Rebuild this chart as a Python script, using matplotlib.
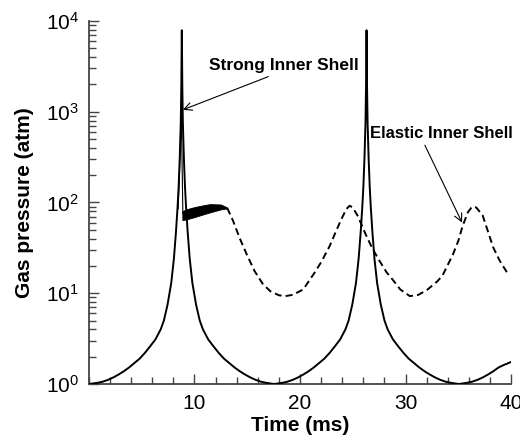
import numpy as np
import matplotlib
matplotlib.use("Agg")
import matplotlib.pyplot as plt
from matplotlib.ticker import FixedLocator, MultipleLocator, LogLocator, NullFormatter

plt.rcParams['font.family'] = ['Liberation Sans', 'DejaVu Sans']
plt.rcParams['mathtext.fontset'] = 'custom'
plt.rcParams['mathtext.rm'] = 'Liberation Sans'
plt.rcParams['mathtext.it'] = 'Liberation Sans:italic'
plt.rcParams['mathtext.bf'] = 'Liberation Sans:bold'

# strong inner shell: gas pressure (atm) vs time (ms)
strong_t = [0.0, 0.8, 1.3, 1.8, 2.3, 2.8, 3.3, 3.8, 4.3, 4.8, 5.3, 5.8, 6.3, 6.8,
            7.1, 7.45, 7.8, 8.05, 8.25, 8.4, 8.5, 8.6, 8.7, 8.75, 8.8,
            8.85, 8.9, 9.0, 9.1, 9.2, 9.35, 9.55, 9.8, 10.15, 10.5, 10.8, 11.3,
            11.8, 12.3, 12.8, 13.3, 13.8, 14.3, 14.8, 15.3, 15.8, 16.3, 16.8,
            17.55, 18.3, 18.8, 19.3, 19.8, 20.3, 20.8, 21.3, 21.8, 22.3, 22.8,
            23.3, 23.8, 24.3, 24.6, 24.95, 25.3, 25.55, 25.75, 25.9, 26.0, 26.1,
            26.2, 26.25, 26.3, 26.35, 26.4, 26.5, 26.6, 26.7, 26.85, 27.05,
            27.3, 27.65, 28.0, 28.3, 28.8, 29.3, 29.8, 30.3, 30.8, 31.3, 31.8,
            32.3, 32.8, 33.3, 33.8, 34.3, 35.05, 35.8, 36.3, 36.8, 37.3, 37.8,
            38.3, 38.8, 39.3, 40.0]
strong_p = [1.0, 1.03, 1.06, 1.11, 1.18, 1.27, 1.38, 1.52, 1.7, 1.9, 2.2, 2.6, 3.1, 4.0,
            5.0, 7.5, 13, 24, 48, 90, 150, 300, 750, 1800, 7900,
            1800, 750, 300, 150, 90, 48, 24, 13, 7.5, 5.0, 4.0, 3.1,
            2.6, 2.2, 1.9, 1.7, 1.52, 1.38, 1.27, 1.18, 1.11, 1.06, 1.03,
            1.0, 1.03, 1.06, 1.11, 1.18, 1.27, 1.38, 1.52, 1.7, 1.9, 2.2,
            2.6, 3.1, 4.0, 5.0, 7.5, 13, 24, 48, 90, 150, 300,
            750, 1800, 7900, 1800, 750, 300, 150, 90, 48, 24,
            13, 7.5, 5.0, 4.0, 3.1, 2.6, 2.2, 1.9, 1.7, 1.52, 1.38,
            1.27, 1.18, 1.11, 1.06, 1.03, 1.0, 1.03, 1.06, 1.11, 1.18, 1.27,
            1.38, 1.52, 1.62, 1.75]

# elastic inner shell: short spike, then a band of fast oscillation
spike_t = [8.45, 8.6, 8.75, 8.82, 8.9]
spike_p = [85, 250, 1000, 300, 75]
band_t = [8.85, 9.2, 10.0, 11.0, 11.5, 12.5, 13.1]
band_lo = [64, 65, 69, 75, 78, 84, 86]
band_hi = [80, 84, 89, 94, 96, 95, 88]

# elastic inner shell after the oscillating band
elastic_t = [13.1, 13.65, 14.3, 15.0, 15.7, 16.5, 17.2, 18.0, 18.6, 19.3, 20.3,
             21.4, 22.0, 22.8, 23.4, 23.9, 24.4, 24.7, 25.0, 25.5, 26.2, 26.8,
             27.5, 28.2, 28.8, 29.5, 30.4, 31.2, 32.0, 33.0, 33.5, 34.5, 35.0,
             35.4, 35.9, 36.3, 36.7, 37.3, 37.8, 38.3, 38.9, 39.6]
elastic_p = [87, 63, 40, 26, 17.5, 12.5, 10.5, 9.5, 9.3, 9.6, 11,
             17, 22, 33, 48, 65, 85, 92, 88, 70, 45, 32,
             23, 17, 14, 11, 9.3, 9.6, 10.8, 13.5, 15.7, 27, 38,
             55, 78, 90, 88, 72, 48, 32, 23, 17]

fig = plt.figure(figsize=(5.2, 4.46), dpi=100)
ax = fig.add_axes([0.171, 0.139, 0.812, 0.814])

ax.plot(strong_t, strong_p, color='k', linewidth=1.4, zorder=3)
ax.plot(spike_t, spike_p, color='k', linewidth=0.8, zorder=3)
ax.fill_between(band_t, band_lo, band_hi, color='k', linewidth=0.6, edgecolor='k')
ax.plot(elastic_t, elastic_p, color='k', linewidth=1.4, dashes=(3.6, 2.1))

ax.set_yscale('log')
ax.set_xlim(0, 40)
ax.set_ylim(1, 1e4)

ax.xaxis.set_major_locator(FixedLocator([10, 20, 30, 40]))
ax.xaxis.set_minor_locator(MultipleLocator(2))
ax.yaxis.set_major_locator(LogLocator(base=10, numticks=10))
ax.yaxis.set_minor_locator(LogLocator(base=10, subs=np.arange(2, 10), numticks=10))
ax.yaxis.set_minor_formatter(NullFormatter())

spine_col = '#444444'
for s in ['top', 'right']:
    ax.spines[s].set_visible(False)
for s in ['left', 'bottom']:
    ax.spines[s].set_color(spine_col)
    ax.spines[s].set_linewidth(1.3)
ax.tick_params(which='both', direction='in', color=spine_col, width=1.0,
               labelsize=15, top=False, right=False)
ax.tick_params(which='major', length=7, pad=7)
ax.tick_params(which='minor', length=5)

ax.set_xlabel('Time (ms)', fontsize=15, fontweight='bold', labelpad=2)
ax.set_ylabel('Gas pressure (atm)', fontsize=15, fontweight='bold', labelpad=9)

ax.annotate('Strong Inner Shell', xy=(8.9, 1050), xytext=(18.5, 3200),
            ha='center', va='center', fontsize=12.5, fontweight='bold',
            arrowprops=dict(arrowstyle='->', color='k', lw=0.8, shrinkA=1, shrinkB=0,
                            relpos=(0.45, 0.0), mutation_scale=14))
ax.annotate('Elastic Inner Shell', xy=(35.35, 60), xytext=(33.4, 573),
            ha='center', va='center', fontsize=12, fontweight='bold',
            arrowprops=dict(arrowstyle='->', color='k', lw=0.8, shrinkA=1, shrinkB=0,
                            relpos=(0.37, 0.0), mutation_scale=14))

fig.savefig('out.png', dpi=100)
